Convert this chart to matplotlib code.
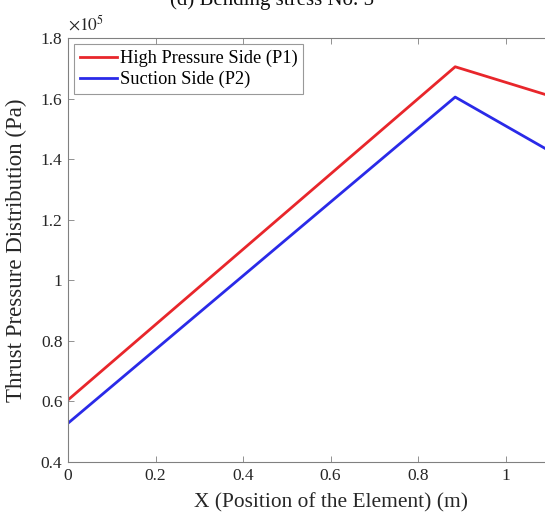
import matplotlib
matplotlib.use("Agg")
import matplotlib.pyplot as plt
from matplotlib.ticker import FuncFormatter, MultipleLocator

plt.rcParams['font.family'] = ['Liberation Serif', 'DejaVu Serif']
plt.rcParams['mathtext.fontset'] = 'stix'

# Element positions (m) and thrust pressure (Pa)
x_pos = [0.0, 0.885, 1.2]
p1_high = [0.605e5, 1.705e5, 1.565e5]
p2_suction = [0.528e5, 1.605e5, 1.345e5]
series_labels = ['High Pressure Side (P1)', 'Suction Side (P2)']
x_ticks = [0, 0.2, 0.4, 0.6, 0.8, 1.0]

fig = plt.figure(figsize=(5.45, 5.21), dpi=100)
ax = fig.add_axes([68 / 545, 59 / 521, 525 / 545, 424 / 521])

ax.plot(x_pos, p1_high, color='#e8262b', lw=2, label=series_labels[0])
ax.plot(x_pos, p2_suction, color='#2a2ae8', lw=2, label=series_labels[1])

ax.set_xlim(0, 1.2)
ax.set_ylim(0.4e5, 1.8e5)
ax.set_xticks(x_ticks)
ax.yaxis.set_major_locator(MultipleLocator(0.2e5))
ax.xaxis.set_major_formatter(FuncFormatter(lambda v, _: f'{v:g}'))
ax.yaxis.set_major_formatter(FuncFormatter(lambda v, _: f'{v / 1e5:g}'))

grey = '#262626'
for s in ax.spines.values():
    s.set_color('#808080')
    s.set_linewidth(0.8)
ax.tick_params(direction='in', top=True, right=True, length=4, width=0.6,
               colors='#808080', labelcolor=grey, labelsize=12.5, pad=4)

ax.set_xlabel('X (Position of the Element) (m)', fontsize=15.4, color=grey, labelpad=7)
ax.set_ylabel('Thrust Pressure Distribution (Pa)', fontsize=16.5, color=grey, labelpad=10)
ax.text(0.0, 1.008, r'$\times10^{5}$', transform=ax.transAxes, fontsize=12.5,
        color=grey, ha='left', va='bottom')

leg = ax.legend(loc='upper left', fontsize=13.2, frameon=True, fancybox=False,
                handlelength=2.0, handletextpad=0.2, borderpad=0.3,
                labelspacing=0.2, borderaxespad=0.35)
leg.get_frame().set_edgecolor('#808080')
leg.get_frame().set_linewidth(0.8)

fig.text(272 / 545, 1 - 5 / 521, '(d) Bending stress No. 5', fontsize=15,
         color='#111111', ha='center', va='baseline')

fig.savefig('out.png', dpi=100)
